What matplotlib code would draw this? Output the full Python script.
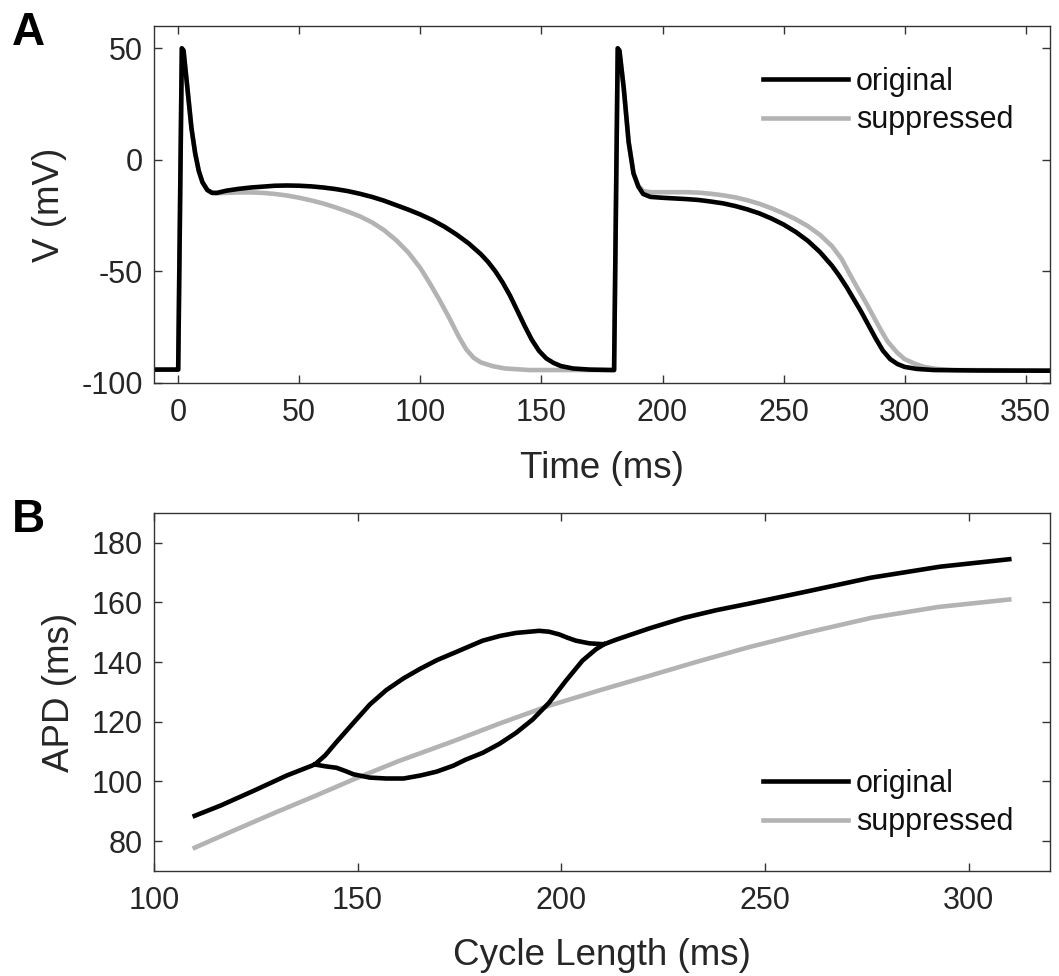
import matplotlib
matplotlib.use('Agg')
import matplotlib.pyplot as plt

plt.rcParams['font.family'] = ['Liberation Sans', 'DejaVu Sans']
plt.rcParams['axes.unicode_minus'] = False

# panel A: membrane potential traces, two beats
orig_t = [-10, 0, 1.5, 2.2, 4, 5.5, 7, 8.5, 10, 12, 14, 16, 20, 25, 30, 35, 40, 45,
          50, 55, 60, 65, 70, 75, 80, 85, 90, 95, 100, 105, 110, 115, 120, 125,
          128, 131, 134, 137, 140, 143, 146, 149, 152, 155, 158, 163, 170, 179.5,
          180, 181.5, 182.2, 184, 186, 188, 190, 192, 195, 200, 205, 210, 215,
          220, 225, 230, 235, 240, 245, 250, 255, 260, 265, 270, 273, 276, 279,
          282, 285, 288, 291, 294, 297, 300, 305, 312, 330, 360]
orig_v = [-94, -94, 50, 49, 30, 14, 3, -5, -10, -13.5, -14.8, -14.8, -13.8, -13,
          -12.4, -12, -11.6, -11.5, -11.6, -11.9, -12.4, -13.1, -14, -15.2, -16.6,
          -18.3, -20.3, -22.3, -24.5, -27, -30, -33.5, -37.5, -42.3, -45.8, -50,
          -55, -60.8, -67.5, -74.3, -80.6, -85.6, -89, -91, -92.4, -93.5, -94, -94.2,
          -94.2, 50, 49, 32, 8, -6, -12, -15.3, -16.6, -17, -17.3, -17.6, -18,
          -18.7, -19.5, -20.7, -22.2, -24, -26.3, -29, -32.3, -36.3, -41.3, -47.5,
          -52, -57, -62.5, -68, -74, -80, -85.5, -89.3, -91.5, -92.8, -93.7, -94.2,
          -94.4, -94.5]

supp_t = [-10, 0, 1.5, 2.2, 4, 5.5, 7, 8.5, 10, 12, 14, 16, 20, 25, 30, 35, 40, 45,
          50, 55, 60, 65, 70, 75, 80, 85, 90, 95, 100, 104, 108, 112, 116, 119,
          122, 125, 130, 135, 145, 179.5,
          180, 181.5, 182.2, 184, 186, 188, 190, 192, 195, 200, 205, 210, 215,
          220, 225, 230, 235, 240, 245, 250, 255, 260, 265, 270, 274, 277, 280,
          284, 287, 290, 293, 297, 300, 304, 308, 313, 320, 360]
supp_v = [-94, -94, 50, 49, 30, 14, 3, -5, -10, -13.5, -14.8, -15, -14.8, -14.6,
          -14.6, -14.8, -15.3, -16, -17, -18.2, -19.6, -21.3, -23.2, -25.3, -28,
          -31.5, -36, -41.5, -48.5, -55.5, -63, -71, -79.5, -85, -88.7, -90.8,
          -92.5, -93.5, -94.2, -94.2,
          -94.2, 50, 49, 32, 8, -6, -11.5, -14, -14.5, -14.5, -14.5, -14.5, -14.7,
          -15.2, -15.9, -16.8, -18.1, -19.7, -21.7, -24, -26.6, -29.7, -33.6, -38.7,
          -44.5, -50.6, -56.5, -64, -70, -76, -81.5, -86.5, -89.3, -91.3, -92.8,
          -93.7, -94.2, -94.4]

# panel B: APD restitution, original shows alternans between ~140 and ~210 ms
cl_orig_long = [110, 116.3, 124.5, 132.6, 139.5, 142, 144.8, 149, 153, 157, 161.3,
                165.4, 169.5, 173.5, 180.7, 185, 188.9, 194.6, 197, 199.5, 201.5,
                203.6, 206.9, 210.5, 213.4, 221.6, 230, 238, 246, 260, 276, 293, 310]
apd_orig_long = [88.5, 91.9, 96.9, 102, 105.7, 108.7, 113.2, 119.7, 125.8, 130.6,
                 134.6, 137.8, 140.7, 143, 147.2, 148.8, 149.8, 150.5, 150.2, 149.3,
                 148.2, 147.2, 146.3, 146, 147.5, 151.3, 154.8, 157.4, 159.6, 163.6,
                 168.3, 172, 174.5]
cl_orig_short = [139.5, 142, 144.8, 147, 149, 153, 157, 161.3, 165.4, 169.4, 173.5,
                 176.5, 180.7, 184.8, 188.9, 193, 197, 201.1, 205.2, 208.5, 210.5]
apd_orig_short = [105.7, 105.1, 104.6, 103.5, 102.4, 101.3, 101, 101, 102, 103.3,
                  105.3, 107.3, 109.6, 112.6, 116.3, 120.8, 126.4, 133.7, 140.5,
                  144.3, 146]
cl_supp = [110, 120, 130, 140, 149, 160, 173.5, 185, 197, 210, 221.6, 233, 246, 260,
           276.3, 292.6, 310]
apd_supp = [77.8, 83.8, 89.7, 95.4, 100.7, 106.8, 113.5, 119.5, 125.4, 130.8, 135.4,
            140, 145, 149.8, 154.9, 158.5, 161]

BLACK = '#000000'
GRAY = '#b3b3b3'
TEXT = '#262626'
LW = 3.3


def style_axes(ax):
    for side in ax.spines.values():
        side.set_color('#333333')
        side.set_linewidth(1.0)
    ax.tick_params(direction='in', length=6, width=1.0, colors='#333333',
                   labelcolor=TEXT, labelsize=22, top=True, right=True)
    ax.tick_params(axis='x', pad=11)
    ax.tick_params(axis='y', pad=8)


def add_legend(ax, handles, top):
    ax.legend(handles, ['original', 'suppressed'], loc='upper left',
              bbox_to_anchor=(0.680, top), frameon=False, fontsize=22,
              handlelength=2.78, handletextpad=0.26, labelspacing=0.27,
              borderpad=0, borderaxespad=0, labelcolor='#111111')


fig = plt.figure(figsize=(10.59, 9.76), dpi=100)
ax_a = fig.add_axes([0.1454, 0.6076, 0.8461, 0.3658])
ax_b = fig.add_axes([0.1454, 0.1076, 0.8461, 0.3668])

# A
g, = ax_a.plot(supp_t, supp_v, color=GRAY, lw=LW)
k, = ax_a.plot(orig_t, orig_v, color=BLACK, lw=LW)
ax_a.set_xlim(-10, 360)
ax_a.set_ylim(-100, 60)
ax_a.set_xticks([0, 50, 100, 150, 200, 250, 300, 350])
ax_a.set_yticks([-100, -50, 0, 50])
style_axes(ax_a)
ax_a.set_xlabel('Time (ms)', fontsize=26.5, color=TEXT)
ax_a.set_ylabel('V (mV)', fontsize=26.5, color=TEXT)
ax_a.xaxis.set_label_coords(0.5, -0.19)
ax_a.yaxis.set_label_coords(-0.097, 0.5)
add_legend(ax_a, [k, g], 0.885)

# B
g2, = ax_b.plot(cl_supp, apd_supp, color=GRAY, lw=LW)
k2, = ax_b.plot(cl_orig_long, apd_orig_long, color=BLACK, lw=LW)
ax_b.plot(cl_orig_short, apd_orig_short, color=BLACK, lw=LW)
ax_b.set_xlim(100, 320)
ax_b.set_ylim(70, 190)
ax_b.set_xticks([100, 150, 200, 250, 300])
ax_b.set_yticks([80, 100, 120, 140, 160, 180])
style_axes(ax_b)
ax_b.set_xlabel('Cycle Length (ms)', fontsize=26.5, color=TEXT)
ax_b.set_ylabel('APD (ms)', fontsize=26.5, color=TEXT)
ax_b.xaxis.set_label_coords(0.5, -0.188)
ax_b.yaxis.set_label_coords(-0.086, 0.5)
add_legend(ax_b, [k2, g2], 0.285)

fig.text(12 / 1059, 1 - 45 / 976, 'A', fontsize=33, fontweight='bold', va='baseline')
fig.text(12 / 1059, 1 - 532 / 976, 'B', fontsize=33, fontweight='bold', va='baseline')

fig.savefig('out.png', dpi=100)
